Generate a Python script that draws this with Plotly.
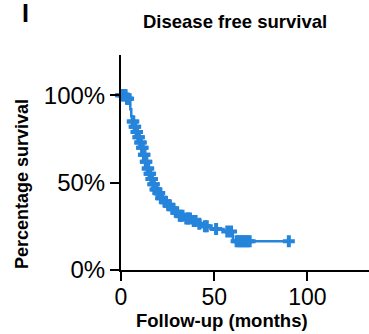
import numpy as np
import plotly.graph_objects as go

# Kaplan-Meier step curve: months at which an event occurs and the
# survival level (%) right after that event.
event_months = [0, 3, 4, 5, 5.5, 6, 7, 8, 9, 10, 11, 12, 13, 14, 15, 16, 17, 18,
                19.5, 21, 23, 25, 27, 29, 31, 34, 38, 41, 44, 48, 55, 60, 61]
survival_pct = [100, 98, 96, 92, 88, 85, 82, 79, 76, 73, 70, 66, 62, 58, 55, 52, 49, 46,
                44, 41, 39, 37, 35, 33, 31, 29.5, 28, 26.5, 25, 23.5, 22, 17, 16.5]
last_followup = 90

# Censored patients (months of last follow-up)
censored_months = [0, 0.5, 1, 1.5, 2, 2.5, 3.2, 3.5, 3.8,
                   6.3, 6.6, 7.3, 7.6, 8.3, 8.6, 9.3, 9.6, 10.3, 10.6, 11.3, 11.6,
                   12.3, 12.6, 13.3, 13.6, 14.3, 14.6, 15.3, 15.6, 16.3, 16.6, 17.3,
                   17.6, 18.5, 19, 20, 20.5, 21.5, 22, 23.5, 24, 25.5, 26, 27.5, 28,
                   30, 31.5, 32, 33, 35, 36, 37, 39, 40, 42, 45, 46, 51, 57, 59,
                   62, 63, 64, 65, 66, 67, 68, 69, 90]

x_ticks = [0, 50, 100]
y_ticks = [0, 50, 100]
y_tick_labels = ["0%", "50%", "100%"]

title_text = "Disease free survival"
panel_label = "I"
x_title = "Follow-up (months)"
y_title = "Percentage survival"

BLUE = "rgb(38,132,218)"
FONT = "Liberation Sans, Arial, sans-serif"

step_x = list(event_months) + [last_followup]
step_y = list(survival_pct) + [survival_pct[-1]]


def level_at(t):
    idx = np.searchsorted(np.array(event_months), t, side="right") - 1
    return survival_pct[max(idx, 0)]


censor_y = [level_at(t) for t in censored_months]

fig = go.Figure()
fig.add_trace(go.Scatter(
    x=step_x, y=step_y, mode="lines", line=dict(color=BLUE, width=2.5, shape="hv"),
    cliponaxis=False, showlegend=False, hoverinfo="skip"))
fig.add_trace(go.Scatter(
    x=censored_months, y=censor_y, mode="markers",
    marker=dict(symbol="cross", size=10, color=BLUE, line=dict(width=0)),
    cliponaxis=False, showlegend=False))

L, T, PW, PH = 121, 55, 248, 215


def px(xp):
    return (xp - L) / PW


def py(yp):
    return (T + PH - yp) / PH


fig.update_layout(
    width=369, height=334,
    margin=dict(l=L, r=369 - L - PW, t=T, b=334 - T - PH, pad=0),
    paper_bgcolor="white", plot_bgcolor="white",
    font=dict(family=FONT, color="black"),
    xaxis=dict(range=[0, 133], tickvals=x_ticks, ticks="outside", ticklen=9,
               tickwidth=2, tickcolor="black", showline=True, linewidth=2,
               linecolor="black", showgrid=False, zeroline=False,
               ticklabelstandoff=-4,
               tickfont=dict(size=23, family=FONT)),
    yaxis=dict(range=[0, 123], tickvals=y_ticks, ticktext=y_tick_labels,
               ticks="outside", ticklen=9, tickwidth=2, tickcolor="black",
               showline=True, linewidth=2, linecolor="black", showgrid=False,
               zeroline=False, tickfont=dict(size=24, family=FONT)),
    annotations=[
        dict(text=f"<b>{title_text}</b>", x=px(235), y=py(21), xref="paper",
             yref="paper", showarrow=False, font=dict(size=18.5, family=FONT),
             xanchor="center", yanchor="middle"),
        dict(text=f"<b>{panel_label}</b>", x=px(25), y=py(13), xref="paper",
             yref="paper", showarrow=False, font=dict(size=25, family=FONT),
             xanchor="center", yanchor="middle"),
        dict(text=f"<b>{x_title}</b>", x=px(222), y=py(320), xref="paper",
             yref="paper", showarrow=False, font=dict(size=18.5, family=FONT),
             xanchor="center", yanchor="middle"),
        dict(text=f"<b>{y_title}</b>", x=px(22), y=py(184), xref="paper",
             yref="paper", showarrow=False, font=dict(size=18, family=FONT),
             xanchor="center", yanchor="middle", textangle=-90),
    ],
)

fig.write_html("out.html")
